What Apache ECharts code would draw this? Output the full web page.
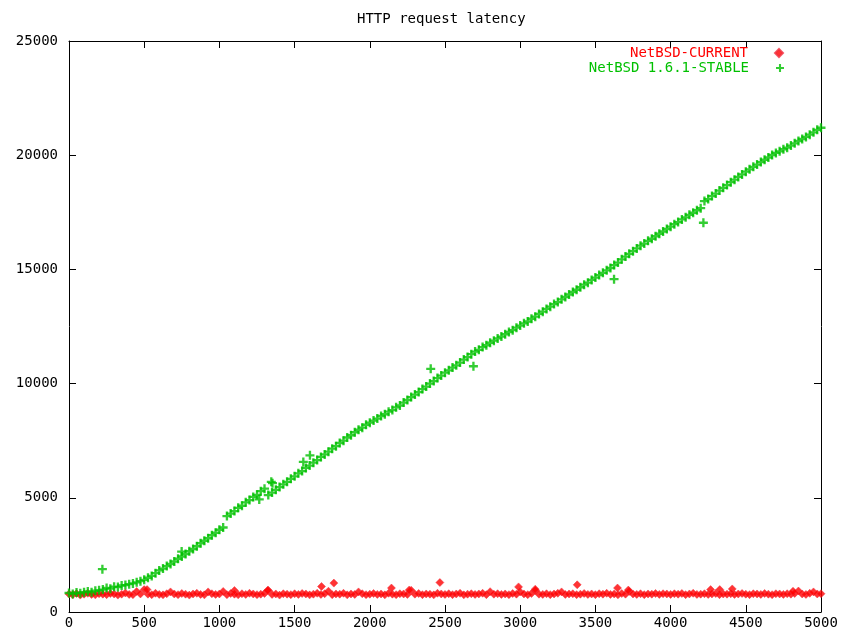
<!DOCTYPE html>
<html>
<head>
<meta charset="utf-8">
<script src="https://cdn.jsdelivr.net/npm/echarts@6/dist/echarts.min.js"></script>
<style>
html,body{margin:0;padding:0;background:#fff;}
#chart{width:845px;height:634px;}
</style>
</head>
<body>
<div id="chart"></div>
<script>
// ---- data ----
const titleText = "HTTP request latency";
const seriesNames = ["NetBSD-CURRENT", "NetBSD 1.6.1-STABLE"];
const xTicks = [0, 500, 1000, 1500, 2000, 2500, 3000, 3500, 4000, 4500, 5000];
const yTicks = [0, 5000, 10000, 15000, 20000, 25000];

// request number (shared x positions)
const requestX = [
  0,25,50,75,100,125,150,175,200,225,250,275,300,325,350,375,400,425,450,475,
  500,525,550,575,600,625,650,675,700,725,750,775,800,825,850,875,900,925,950,975,
  1000,1025,1050,1075,1100,1125,1150,1175,1200,1225,1250,1275,1300,1325,1350,1375,1400,1425,1450,1475,
  1500,1525,1550,1575,1600,1625,1650,1675,1700,1725,1750,1775,1800,1825,1850,1875,1900,1925,1950,1975,
  2000,2025,2050,2075,2100,2125,2150,2175,2200,2225,2250,2275,2300,2325,2350,2375,2400,2425,2450,2475,
  2500,2525,2550,2575,2600,2625,2650,2675,2700,2725,2750,2775,2800,2825,2850,2875,2900,2925,2950,2975,
  3000,3025,3050,3075,3100,3125,3150,3175,3200,3225,3250,3275,3300,3325,3350,3375,3400,3425,3450,3475,
  3500,3525,3550,3575,3600,3625,3650,3675,3700,3725,3750,3775,3800,3825,3850,3875,3900,3925,3950,3975,
  4000,4025,4050,4075,4100,4125,4150,4175,4200,4225,4250,4275,4300,4325,4350,4375,4400,4425,4450,4475,
  4500,4525,4550,4575,4600,4625,4650,4675,4700,4725,4750,4775,4800,4825,4850,4875,4900,4925,4950,4975,
  5000
];

// NetBSD-CURRENT latency
const currentY = [
  790,760,810,740,780,820,770,750,800,780,760,810,790,740,780,830,770,760,900,790,
  980,780,760,820,770,750,800,880,790,760,810,780,740,790,820,770,750,880,800,770,
  790,900,760,810,780,750,800,770,820,790,760,780,810,950,770,790,740,800,780,760,
  800,770,810,790,750,780,820,770,800,910,760,790,780,820,750,790,770,880,800,760,
  780,810,770,790,750,820,780,760,800,790,770,950,780,810,760,790,780,750,820,790,
  770,800,760,790,820,750,780,800,770,790,820,760,890,780,800,770,790,760,810,780,
  880,790,760,810,940,780,770,800,760,790,820,880,770,790,800,760,780,810,770,790,
  760,800,780,820,770,790,750,810,780,900,790,770,800,760,790,780,810,770,800,790,
  770,800,780,810,760,790,820,770,780,800,770,790,810,760,790,780,800,770,790,810,
  780,760,800,790,770,810,780,760,800,790,770,800,780,810,920,790,770,820,880,790,
  800
];
const currentOutX = [519, 1100, 1321, 1679, 1761, 2144, 2262, 2466, 2989, 3100, 3379, 3647, 3719, 4266, 4327, 4410, 4814];
const currentOutY = [980, 940, 950, 1117, 1265, 1050, 960, 1290, 1100, 1000, 1190, 1050, 960, 980, 980, 1010, 910];

// NetBSD 1.6.1-STABLE latency
const stableY = [
  830,790,850,820,870,900,860,930,950,980,1050,1020,1110,1090,1160,1180,1220,1250,1300,1350,
  1410,1500,1580,1700,1820,1900,2010,2100,2210,2330,2430,2540,2660,2760,2880,3010,3120,3230,3360,3470,
  3600,3700,4200,4310,4420,4560,4650,4800,4900,5040,5130,5290,5400,5120,5230,5350,5470,5590,5700,5830,
  5940,6070,6170,6310,6410,6540,6650,6790,6900,7020,7150,7260,7400,7500,7640,7740,7870,7980,8070,8200,
  8290,8380,8470,8580,8660,8770,8840,8960,9040,9170,9280,9410,9520,9630,9760,9870,10000,10110,10240,10350,
  10480,10580,10700,10800,10920,11050,11160,11290,11400,11480,11600,11680,11790,11880,11980,12060,12160,12260,12340,12450,
  12540,12640,12720,12840,12930,13050,13150,13270,13370,13480,13570,13690,13790,13900,14010,14110,14220,14330,14420,14540,
  14640,14750,14850,14960,15060,15190,15300,15440,15560,15680,15800,15920,16040,16130,16250,16340,16450,16560,16660,16770,
  16870,16980,17070,17190,17280,17390,17480,17590,17680,17990,18080,18210,18320,18450,18570,18690,18820,18930,19050,19160,
  19280,19380,19490,19590,19700,19800,19900,20010,20100,20170,20260,20330,20420,20520,20620,20710,20800,20900,21000,21110,
  21200
];
const stableOutX = [222, 749, 1265, 1345, 1353, 1558, 1602, 2405, 2689, 3624, 4218];
const stableOutY = [1876, 2644, 4930, 5700, 5640, 6570, 6860, 10645, 10760, 14572, 17042];

// ---- build ----
function pairs(xs, ys) { return xs.map((x, i) => [x, ys[i]]); }
const currentData = pairs(requestX, currentY).concat(pairs(currentOutX, currentOutY));
const stableData = pairs(requestX, stableY).concat(pairs(stableOutX, stableOutY));

const FONT = "DejaVu Sans Mono";
const plusPath = 'path://M3.7,0h2.6v3.7h3.7v2.6h-3.7v3.7h-2.6v-3.7h-3.7v-2.6h3.7z';
const RED = '#ff0000', GREEN = '#00c000';

const chart = echarts.init(document.getElementById('chart'), null, {renderer: 'canvas'});

const axisCommon = {
  axisLine: {show: true, onZero: false, lineStyle: {color: '#000', width: 1}},
  axisTick: {show: true, inside: true, length: 7, lineStyle: {color: '#000', width: 1}},
  splitLine: {show: false}
};
const plainNum = v => String(v);

chart.setOption({
  animation: false,
  backgroundColor: '#fff',
  title: {
    text: titleText, left: 352, top: 7,
    textStyle: {fontFamily: FONT, fontSize: 14, fontWeight: 'normal', color: '#000'}
  },
  legend: [
    {
      data: [{name: seriesNames[0], textStyle: {color: RED}}],
      right: 61, top: 46, align: 'right', itemWidth: 8, itemHeight: 8, padding: 0,
      textStyle: {fontFamily: FONT, fontSize: 14, padding: [0, 22, 0, 0]}
    },
    {
      data: [{name: seriesNames[1], textStyle: {color: GREEN}}],
      right: 61, top: 61, align: 'right', itemWidth: 8, itemHeight: 8, padding: 0,
      textStyle: {fontFamily: FONT, fontSize: 14, padding: [0, 22, 0, 0]}
    }
  ],
  grid: {left: 69, right: 24, top: 41, bottom: 22, containLabel: false},
  xAxis: [
    Object.assign({
      type: 'value', min: xTicks[0], max: xTicks[xTicks.length - 1], interval: xTicks[1] - xTicks[0],
      position: 'bottom',
      axisLabel: {fontFamily: FONT, fontSize: 14, color: '#000', margin: 4, formatter: plainNum}
    }, axisCommon),
    Object.assign({
      type: 'value', min: xTicks[0], max: xTicks[xTicks.length - 1], interval: xTicks[1] - xTicks[0],
      position: 'top', axisLabel: {show: false}
    }, axisCommon)
  ],
  yAxis: [
    Object.assign({
      type: 'value', min: yTicks[0], max: yTicks[yTicks.length - 1], interval: yTicks[1] - yTicks[0],
      position: 'left',
      axisLabel: {fontFamily: FONT, fontSize: 14, color: '#000', margin: 11, formatter: plainNum}
    }, axisCommon),
    Object.assign({
      type: 'value', min: yTicks[0], max: yTicks[yTicks.length - 1], interval: yTicks[1] - yTicks[0],
      position: 'right', axisLabel: {show: false}
    }, axisCommon)
  ],
  series: [
    {
      name: seriesNames[0], type: 'scatter', xAxisIndex: 0, yAxisIndex: 0,
      symbol: 'diamond', symbolSize: 8,
      itemStyle: {color: RED, borderColor: '#f03040', borderWidth: 0.6},
      data: currentData
    },
    {
      name: seriesNames[1], type: 'scatter', xAxisIndex: 0, yAxisIndex: 0,
      symbol: plusPath, symbolSize: 9,
      itemStyle: {color: GREEN},
      data: stableData
    }
  ]
});
</script>
</body>
</html>
